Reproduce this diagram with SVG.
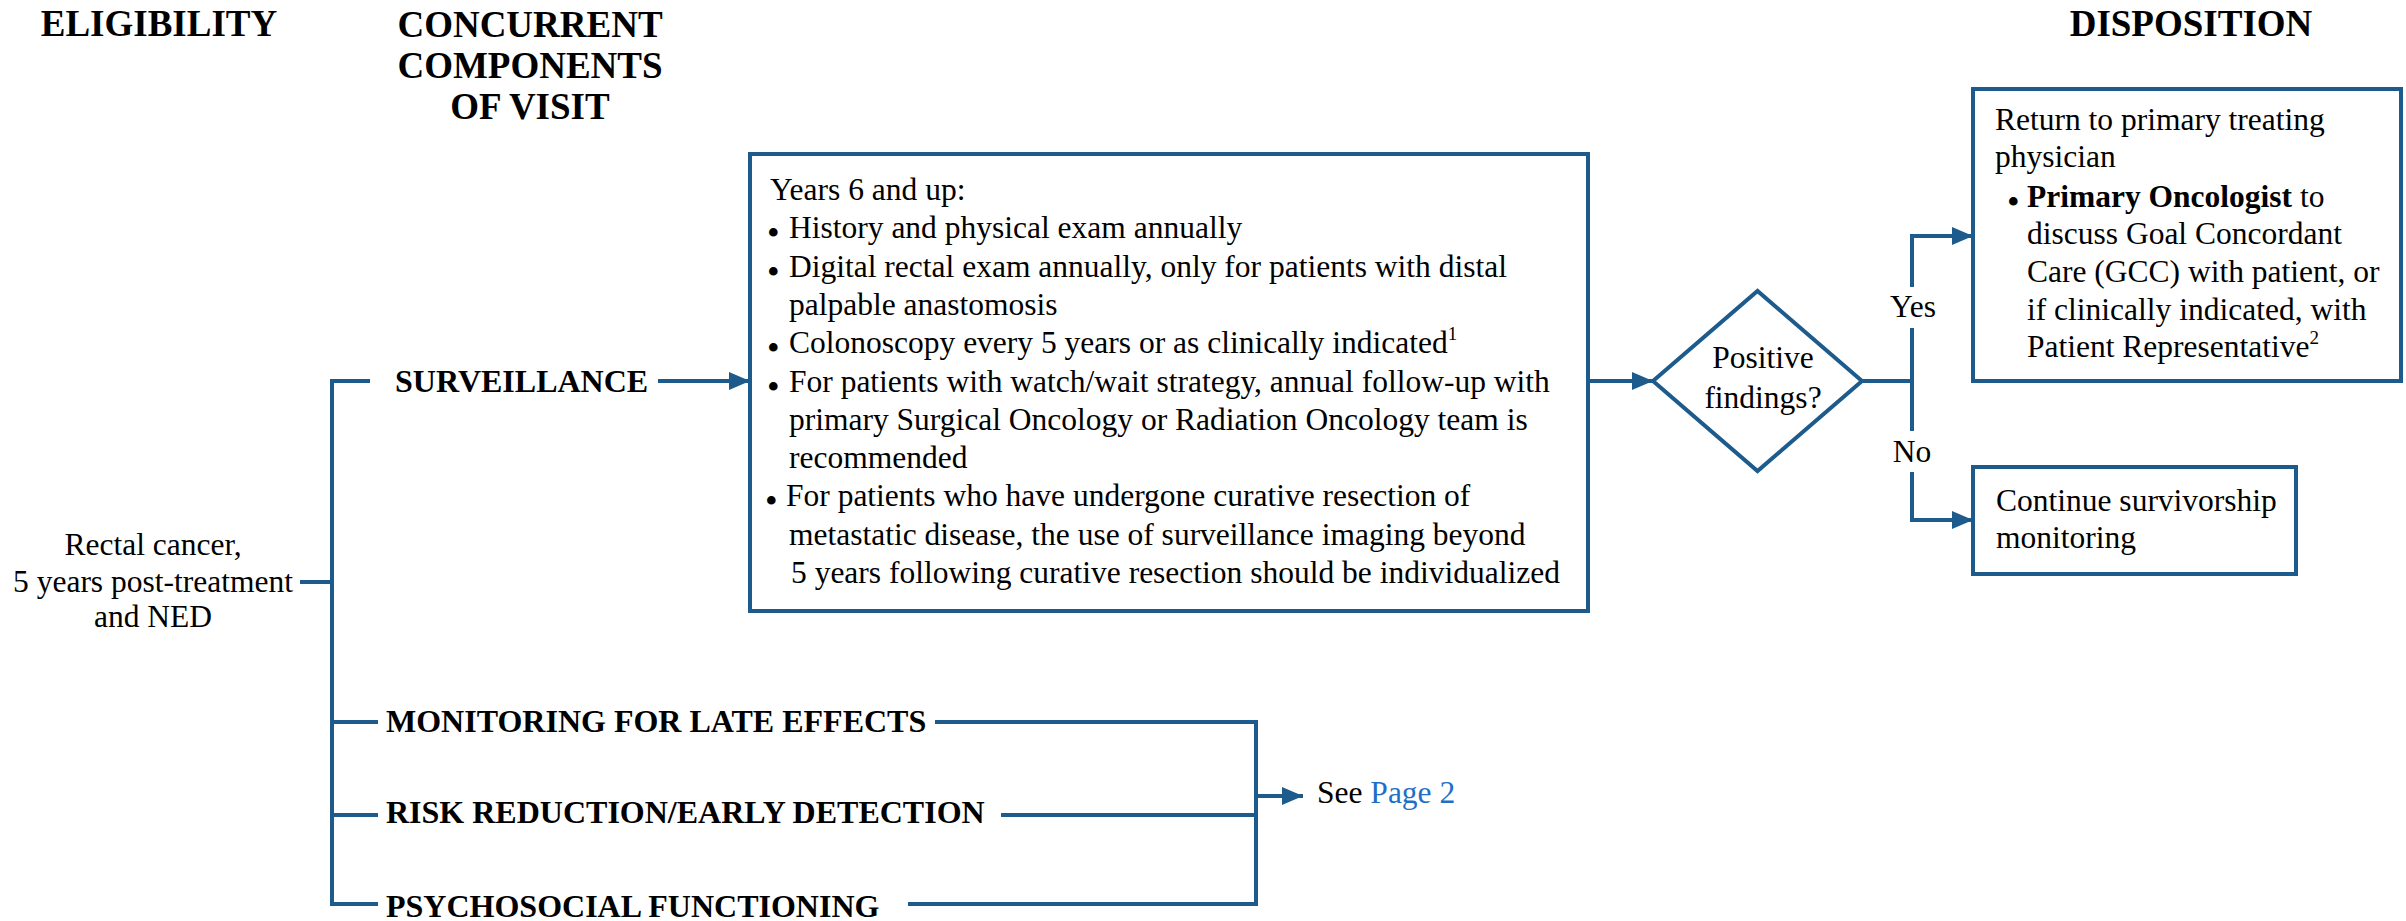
<svg xmlns="http://www.w3.org/2000/svg" width="2406" height="921" viewBox="0 0 2406 921" font-family="'Liberation Serif', 'DejaVu Serif', serif">
<defs>
<style>
text, tspan { font-family: 'Liberation Serif', 'DejaVu Serif', serif; fill: #000; }
.h { font-size: 37px; font-weight: bold; }
.c { font-size: 32px; font-weight: bold; }
.t { font-size: 31.5px; }
.b { font-size: 36px; }
.sup { font-size: 19px; }
.box { fill: #fff; stroke: #1d5b8c; stroke-width: 4; }
.ln { fill: none; stroke: #1d5b8c; stroke-width: 4; }
tspan.link { fill: #1f6fc6; }
</style>
<marker id="ah" markerUnits="userSpaceOnUse" markerWidth="22" markerHeight="20" refX="21" refY="9" orient="auto" viewBox="0 0 22 18">
<path d="M0,0 L21,9 L0,18 z" fill="#1d5b8c"/>
</marker>
</defs>

<g id="headings">
<text class="h" x="159" y="36" text-anchor="middle">ELIGIBILITY</text>
<text class="h" x="530" y="37" text-anchor="middle">CONCURRENT</text>
<text class="h" x="530" y="78" text-anchor="middle">COMPONENTS</text>
<text class="h" x="530" y="119" text-anchor="middle">OF VISIT</text>
<text class="h" x="2191" y="36" text-anchor="middle">DISPOSITION</text>
</g>

<g id="eligibility">
<text class="t" x="153" y="555" text-anchor="middle">Rectal cancer,</text>
<text class="t" x="153" y="592" text-anchor="middle">5 years post-treatment</text>
<text class="t" x="153" y="627" text-anchor="middle">and NED</text>
</g>

<g id="connectors">
<line class="ln" x1="300" y1="582" x2="332" y2="582"/>
<line class="ln" x1="332" y1="379" x2="332" y2="906"/>
<line class="ln" x1="330" y1="381" x2="370" y2="381"/>
<line class="ln" x1="330" y1="722" x2="378" y2="722"/>
<line class="ln" x1="330" y1="815" x2="378" y2="815"/>
<line class="ln" x1="330" y1="904" x2="378" y2="904"/>
<line class="ln" x1="658" y1="381" x2="750" y2="381" marker-end="url(#ah)"/>
<line class="ln" x1="935" y1="722" x2="1258" y2="722"/>
<line class="ln" x1="1001" y1="815" x2="1256" y2="815"/>
<line class="ln" x1="908" y1="904" x2="1258" y2="904"/>
<line class="ln" x1="1256" y1="720" x2="1256" y2="906"/>
<line class="ln" x1="1256" y1="796" x2="1303" y2="796" marker-end="url(#ah)"/>
<line class="ln" x1="1588" y1="381" x2="1653" y2="381" marker-end="url(#ah)"/>
<line class="ln" x1="1862" y1="381" x2="1912" y2="381"/>
<line class="ln" x1="1912" y1="328" x2="1912" y2="431"/>
<path class="ln" d="M1912,287 V236 H1973" marker-end="url(#ah)"/>
<path class="ln" d="M1912,472 V520 H1973" marker-end="url(#ah)"/>
</g>

<g id="surveillance-label">
<text class="c" x="395" y="392">SURVEILLANCE</text>
</g>
<g id="late-effects">
<text class="c" x="386" y="732">MONITORING FOR LATE EFFECTS</text>
</g>
<g id="risk-reduction">
<text class="c" x="386" y="823">RISK REDUCTION/EARLY DETECTION</text>
</g>
<g id="psychosocial">
<text class="c" x="386" y="917">PSYCHOSOCIAL FUNCTIONING</text>
</g>
<g id="see-page2">
<text class="t" x="1317" y="803">See <tspan class="link">Page 2</tspan></text>
</g>

<g id="surveillance-box">
<rect class="box" x="750" y="154" width="838" height="457"/>
<text class="t" x="770" y="200">Years 6 and up:</text>
<text class="t" x="767" y="238.3"><tspan class="b" dy="7">•</tspan><tspan x="789" dy="-7">History and physical exam annually</tspan></text>
<text class="t" x="767" y="276.6"><tspan class="b" dy="7">•</tspan><tspan x="789" dy="-7">Digital rectal exam annually, only for patients with distal</tspan></text>
<text class="t" x="789" y="314.9">palpable anastomosis</text>
<text class="t" x="767" y="353.2"><tspan class="b" dy="7">•</tspan><tspan x="789" dy="-7">Colonoscopy every 5 years or as clinically indicated</tspan><tspan class="sup" dy="-13">1</tspan></text>
<text class="t" x="767" y="391.5"><tspan class="b" dy="7">•</tspan><tspan x="789" dy="-7">For patients with watch/wait strategy, annual follow-up with</tspan></text>
<text class="t" x="789" y="429.8">primary Surgical Oncology or Radiation Oncology team is</text>
<text class="t" x="789" y="468.1">recommended</text>
<text class="t" x="765" y="506.4"><tspan class="b" dy="7">•</tspan><tspan x="786" dy="-7">For patients who have undergone curative resection of</tspan></text>
<text class="t" x="789" y="544.7">metastatic disease, the use of surveillance imaging beyond</text>
<text class="t" x="791" y="583">5 years following curative resection should be individualized</text>
</g>

<g id="decision">
<polygon class="box" points="1653,381 1757.5,291 1862,381 1757.5,471"/>
<text class="t" x="1763" y="368" text-anchor="middle">Positive</text>
<text class="t" x="1763" y="408" text-anchor="middle">findings?</text>
</g>

<g id="labels">
<text class="t" x="1913" y="317" text-anchor="middle">Yes</text>
<text class="t" x="1912" y="462" text-anchor="middle">No</text>
</g>

<g id="return-box">
<rect class="box" x="1973" y="89" width="428" height="292"/>
<text class="t" x="1995" y="130">Return to primary treating</text>
<text class="t" x="1995" y="167">physician</text>
<text class="t" x="2007" y="207"><tspan class="b" dy="7">•</tspan><tspan x="2027" dy="-7" font-weight="bold">Primary Oncologist</tspan> to</text>
<text class="t" x="2027" y="244">discuss Goal Concordant</text>
<text class="t" x="2027" y="282">Care (GCC) with patient, or</text>
<text class="t" x="2027" y="320">if clinically indicated, with</text>
<text class="t" x="2027" y="357">Patient Representative<tspan class="sup" dy="-13">2</tspan></text>
</g>

<g id="continue-box">
<rect class="box" x="1973" y="467" width="323" height="107"/>
<text class="t" x="1996" y="511">Continue survivorship</text>
<text class="t" x="1996" y="548">monitoring</text>
</g>
</svg>
